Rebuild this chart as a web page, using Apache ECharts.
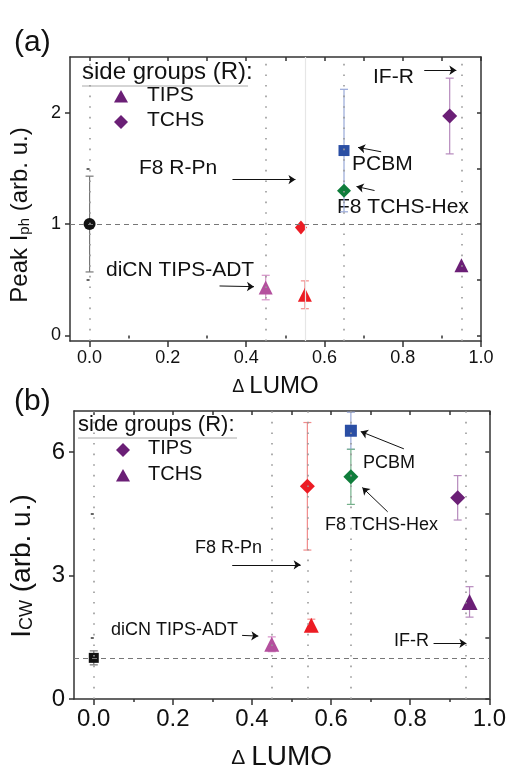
<!DOCTYPE html>
<html>
<head>
<meta charset="utf-8">
<script src="https://cdn.jsdelivr.net/npm/echarts@6/dist/echarts.min.js"></script>
<style>
html, body { margin: 0; padding: 0; background: #fff; }
#main { width: 509px; height: 772px; }
</style>
</head>
<body>
<div id="main"></div>
<script>
// panel (a): peak photocurrent
var topX   = [0, 0.54, 0.45, 0.55, 0.95, 0.65, 0.65, 0.92];
var topY   = [1.0, 0.97, 0.43, 0.365, 0.63, 1.30, 1.66, 1.97];
var topErr = [0.43, 0, 0.11, 0.125, 0, 0, 0.55, 0.34];
// panel (b): cw photocurrent
var botX   = [0, 0.45, 0.55, 0.95, 0.54, 0.65, 0.65, 0.92];
var botY   = [1.0, 1.33, 1.79, 2.36, 5.17, 6.52, 5.40, 4.89];
var botErr = [0.17, 0.18, 0.15, 0.37, 1.55, 0.45, 0.67, 0.54];

var xMajor = [0, 0.2, 0.4, 0.6, 0.8, 1.0];
var xMinor = [0.1, 0.3, 0.5, 0.7, 0.9];
var xAll   = [0, 0.1, 0.2, 0.3, 0.4, 0.5, 0.6, 0.7, 0.8, 0.9, 1.0];
var topYMajor = [0, 1, 2];
var topYMinor = [0.5, 1.5];
var botYMajor = [0, 3, 6];
var botYMinor = [1.5, 4.5];

var topGuides = [0, 0.45, 0.65, 0.95];
var botGuides = [0, 0.45, 0.535, 0.65, 0.94];

// annotation arrows [x1, y1, x2, y2] in data units
var topArrows = [
    [0.855, 2.381, 0.937, 2.381],
    [0.745, 1.649, 0.686, 1.688],
    [0.728, 1.301, 0.682, 1.337],
    [0.365, 1.399, 0.526, 1.399],
    [0.332, 0.444, 0.420, 0.438]
];
var botArrows = [
    [0.784, 6.08, 0.675, 6.50],
    [0.743, 4.55, 0.679, 5.14],
    [0.350, 3.26, 0.523, 3.26],
    [0.375, 1.546, 0.416, 1.529],
    [0.859, 1.353, 0.942, 1.353]
];

var RED = '#ec1c24', MAG = '#b4509e', PUR = '#6b1f76', GRN = '#0f7d3b', BLU = '#2a4ea4', BLK = '#111';
var topColors  = [BLK, RED, MAG, RED, PUR, GRN, BLU, PUR];
var topSymbols = ['circle', 'diamond', 'triangle', 'triangle', 'triangle', 'diamond', 'rect', 'diamond'];
var topSizes   = [12, [12, 14], 14, 14, 14, 14, 11, 15];
var botColors  = [BLK, MAG, RED, PUR, RED, BLU, GRN, PUR];
var botSymbols = ['rect', 'triangle', 'triangle', 'triangle', 'diamond', 'rect', 'diamond', 'diamond'];
var botSizes   = [10, 15, 15, 16, 15, 12, 15, 15];
var errColors  = {};
errColors[BLK] = '#777'; errColors[RED] = '#f28b8b'; errColors[MAG] = '#d690c8';
errColors[PUR] = '#b68abd'; errColors[GRN] = '#74b08b'; errColors[BLU] = '#98a8d8';

var FONT = 'Liberation Sans';
var AX = { color: '#333', width: 1.5 };

function xAxesFor(gi, fs, gap, dSize, lSize) {
    return [
        { gridIndex: gi, type: 'value', min: -0.05, max: 1, position: 'bottom',
          axisLine: { onZero: false, lineStyle: AX },
          axisTick: { length: 6, lineStyle: AX, customValues: xMajor },
          axisLabel: { customValues: xMajor, formatter: function (v) { return v.toFixed(1); },
                       fontSize: fs, color: '#111', fontFamily: FONT, margin: 8 },
          splitLine: { show: false },
          name: '{d|Δ }{l|LUMO}', nameLocation: 'middle', nameGap: gap,
          nameTextStyle: { color: '#111', fontFamily: FONT, rich: {
              d: { fontSize: dSize, lineHeight: dSize, verticalAlign: 'bottom', fontFamily: FONT, padding: [0, 0, 2, 0] },
              l: { fontSize: lSize, lineHeight: lSize, verticalAlign: 'bottom', fontFamily: FONT } } } },
        { gridIndex: gi, type: 'value', min: -0.05, max: 1, position: 'bottom',
          axisLine: { show: false },
          axisTick: { length: 3, lineStyle: AX, customValues: xMinor },
          axisLabel: { show: false }, splitLine: { show: false } },
        { gridIndex: gi, type: 'value', min: -0.05, max: 1, position: 'top',
          axisLine: { onZero: false, lineStyle: AX },
          axisTick: { inside: true, length: 4, lineStyle: AX, customValues: xAll },
          axisLabel: { show: false }, splitLine: { show: false } }
    ];
}

function yAxesFor(gi, min, max, major, minor, fs, name, gap, shift, rich) {
    return [
        { gridIndex: gi, type: 'value', min: min, max: max, position: 'left',
          axisLine: { onZero: false, lineStyle: AX },
          axisTick: { length: 5, lineStyle: AX, customValues: major },
          axisLabel: { customValues: major, fontSize: fs, color: '#111', fontFamily: FONT, margin: 9 },
          splitLine: { show: false },
          name: name, nameLocation: 'middle', nameGap: gap,
          nameTextStyle: { fontFamily: FONT, color: '#111', padding: [0, shift, 0, 0], rich: rich } },
        { gridIndex: gi, type: 'value', min: min, max: max, position: 'left',
          axisLine: { show: false },
          axisTick: { length: 3, lineStyle: AX, customValues: minor },
          axisLabel: { show: false }, splitLine: { show: false } },
        { gridIndex: gi, type: 'value', min: min, max: max, position: 'right',
          axisLine: { onZero: false, lineStyle: AX },
          axisTick: { inside: true, length: 4, lineStyle: AX, customValues: major.concat(minor) },
          axisLabel: { show: false }, splitLine: { show: false } }
    ];
}

function errRender(color) {
    return function (params, api) {
        var x = api.value(0);
        var lo = api.coord([x, api.value(1)]);
        var hi = api.coord([x, api.value(2)]);
        var w = 4;
        var st = { stroke: color, lineWidth: 1.2 };
        return { type: 'group', children: [
            { type: 'line', shape: { x1: lo[0], y1: lo[1], x2: hi[0], y2: hi[1] }, style: st },
            { type: 'line', shape: { x1: lo[0] - w, y1: lo[1], x2: lo[0] + w, y2: lo[1] }, style: st },
            { type: 'line', shape: { x1: hi[0] - w, y1: hi[1], x2: hi[0] + w, y2: hi[1] }, style: st }
        ] };
    };
}

var series = [];

function addPanel(xi, yi, xs, ys, es, colors, symbols, sizes, guides, arrows, extraGuides) {
    var guideData = guides.map(function (g) { return { xAxis: g }; });
    series.push({
        type: 'line', xAxisIndex: xi, yAxisIndex: yi, data: [], silent: true,
        markLine: { silent: true, symbol: 'none', label: { show: false }, animation: false,
            lineStyle: { color: '#9a9a9a', width: 1.6, type: [1.6, 9] },
            data: guideData.concat(extraGuides) }
    });
    series.push({
        type: 'line', xAxisIndex: xi, yAxisIndex: yi, data: [], silent: true,
        markLine: { silent: true, symbol: 'none', label: { show: false }, animation: false,
            lineStyle: { color: '#777', width: 1.2, type: [5, 4] },
            data: [{ yAxis: 1 }] }
    });
    series.push({
        type: 'line', xAxisIndex: xi, yAxisIndex: yi, data: [], silent: true, z: 5,
        markLine: { silent: true, symbol: ['none', 'arrow'], symbolSize: 7, label: { show: false },
            animation: false, lineStyle: { color: '#111', width: 1, type: 'solid' },
            itemStyle: { color: '#111' },
            data: arrows.map(function (a) { return [{ coord: [a[0], a[1]] }, { coord: [a[2], a[3]] }]; }) }
    });
    for (var i = 0; i < xs.length; i++) {
        if (es[i] > 0) {
            series.push({ type: 'custom', xAxisIndex: xi, yAxisIndex: yi, z: 2, silent: true,
                renderItem: errRender(errColors[colors[i]]),
                data: [[xs[i], ys[i] - es[i], ys[i] + es[i]]] });
        }
        series.push({ type: 'scatter', xAxisIndex: xi, yAxisIndex: yi, z: 4,
            symbol: symbols[i], symbolSize: sizes[i],
            itemStyle: { color: colors[i], opacity: 1 },
            data: [[xs[i], ys[i]]] });
    }
}

addPanel(0, 0, topX, topY, topErr, topColors, topSymbols, topSizes, topGuides, topArrows,
    [{ xAxis: 0.553, lineStyle: { color: '#e6e6e6', type: 'solid', width: 1.2 } }]);
addPanel(3, 3, botX, botY, botErr, botColors, botSymbols, botSizes, botGuides, botArrows, []);

function txt(x, y, s, size) {
    return { type: 'text', left: x, top: y - size * 0.6, silent: true,
        style: { text: s, fontSize: size, fontFamily: FONT, fill: '#111' } };
}
function tri(cx, cy, r) {
    return { type: 'polygon', silent: true, shape: { points: [[cx, cy - r], [cx + r, cy + r * 0.8], [cx - r, cy + r * 0.8]] },
        style: { fill: PUR } };
}
function dia(cx, cy, r) {
    return { type: 'polygon', silent: true, shape: { points: [[cx, cy - r], [cx + r, cy], [cx, cy + r], [cx - r, cy]] },
        style: { fill: PUR } };
}
function rule(x1, x2, y) {
    return { type: 'line', silent: true, shape: { x1: x1, y1: y, x2: x2, y2: y }, style: { stroke: '#aaa', lineWidth: 1 } };
}

var graphics = [
    txt(14, 46, '(a)', 30),
    txt(82, 75, 'side groups (R):', 24),
    rule(82, 248, 86),
    tri(121, 97, 7), txt(147, 97, 'TIPS', 21),
    dia(121, 122, 7), txt(147, 122, 'TCHS', 21),
    txt(373, 79, 'IF-R', 21),
    txt(352, 166, 'PCBM', 21),
    txt(337, 209, 'F8 TCHS-Hex', 21),
    txt(139, 170, 'F8 R-Pn', 21),
    txt(106, 272, 'diCN TIPS-ADT', 21),

    txt(14, 405, '(b)', 30),
    txt(78, 427, 'side groups (R):', 22),
    rule(78, 237, 438),
    dia(123, 450, 7), txt(148, 450, 'TIPS', 20),
    tri(123, 476, 7), txt(148, 476, 'TCHS', 20),
    txt(363, 465, 'PCBM', 18),
    txt(325, 527, 'F8 TCHS-Hex', 18),
    txt(195, 550, 'F8 R-Pn', 18),
    txt(111, 632, 'diCN TIPS-ADT', 18),
    txt(394, 643, 'IF-R', 18)
];

var chart = echarts.init(document.getElementById('main'));
chart.setOption({
    animation: false,
    backgroundColor: '#fff',
    textStyle: { fontFamily: FONT },
    grid: [
        { left: 66, top: 57, width: 415, height: 284 },
        { left: 68, top: 411, width: 424, height: 289 }
    ],
    xAxis: xAxesFor(0, 18, 33, 18, 24).concat(xAxesFor(1, 24, 44, 21, 28)),
    yAxis: yAxesFor(0, -0.05, 2.5, topYMajor, topYMinor, 18,
                '{m|Peak I}{s|ph}{m| (arb. u.)}', 38, 32,
                { m: { fontSize: 24, verticalAlign: 'bottom', lineHeight: 28 },
                  s: { fontSize: 15, verticalAlign: 'bottom', lineHeight: 22 } })
        .concat(yAxesFor(1, 0, 7, botYMajor, botYMinor, 24,
                '{m|I}{s|CW}{m| (arb. u.)}', 38, 22,
                { m: { fontSize: 28, verticalAlign: 'bottom', lineHeight: 32 },
                  s: { fontSize: 18, verticalAlign: 'bottom', lineHeight: 24 } })),
    graphic: graphics,
    series: series
});
</script>
</body>
</html>
